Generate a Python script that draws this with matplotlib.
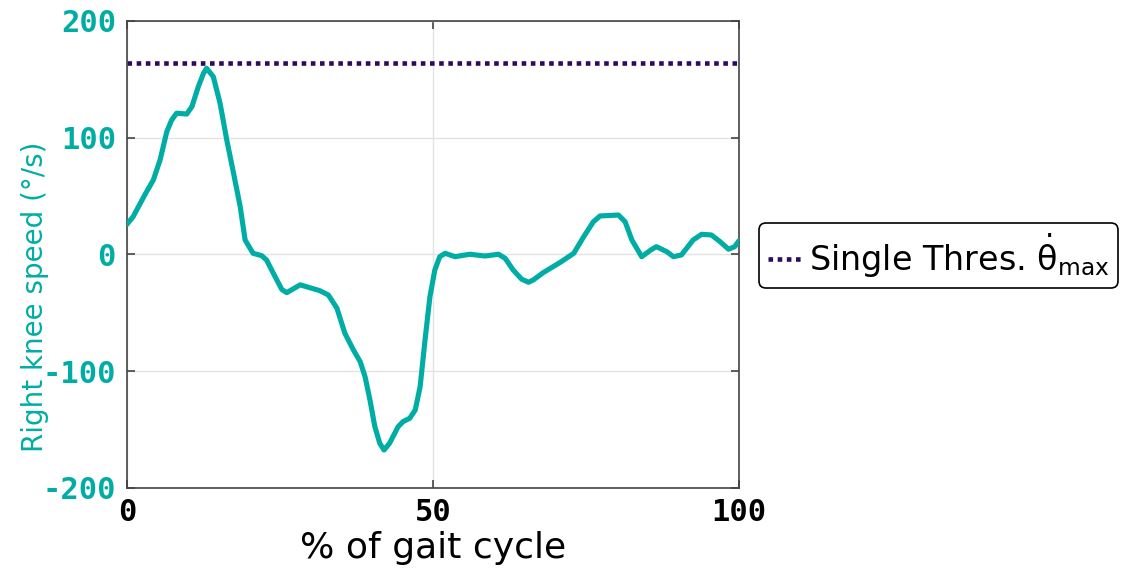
import matplotlib
matplotlib.use("Agg")
import matplotlib.pyplot as plt

plt.rcParams["mathtext.default"] = "regular"
plt.rcParams["axes.unicode_minus"] = False

# right knee angular velocity over one gait cycle
gait_pct = [0.0, 1.0, 2.9, 4.3, 5.4, 6.5, 7.3, 8.1, 9.75, 10.6, 11.65, 12.5, 13.0,
            14.1, 15.2, 16.3, 17.4, 18.5, 19.3, 20.6, 22.0, 22.8, 23.9, 25.3, 26.1,
            28.3, 31.5, 32.9, 34.3, 35.6, 37.0, 38.1, 38.9, 39.7,
            40.5, 41.3, 42.0, 42.9, 44.3, 45.1, 46.2, 47.1, 47.9, 48.7, 49.5, 50.3,
            51.1, 52.0, 53.6, 56.0, 58.5, 60.7, 61.8, 63.1, 64.5, 65.6, 66.4, 68.0,
            70.8, 73.0, 74.6, 76.2, 77.3, 80.3, 81.4, 82.5, 84.1, 85.5, 86.5, 88.2,
            89.3, 90.6, 92.5, 93.9, 95.5, 96.9, 98.3, 99.3, 100.0]
knee_speed = [25.9, 32.4, 51.0, 63.8, 80.9, 105.2, 115.2, 121.0, 120.3, 126.6, 143.7,
              155.2, 159.5, 152.3, 129.7, 98.1, 69.8, 40.9, 12.4, 1.0, -1.0, -4.7,
              -16.0, -30.0, -32.7, -26.0, -31.0, -34.7, -46.0, -67.5, -81.8, -91.8,
              -104.7, -124.6, -147.5, -161.7, -167.5, -161.7, -147.5, -143.2, -140.3,
              -133.2, -113.2, -73.2, -36.1, -13.3, -1.9, 1.0, -1.9, 0.2, -1.3, 0.2,
              -3.3, -13.3, -21.2, -23.8, -21.8, -15.6, -6.7, 1.0, 15.0, 28.0, 33.0,
              33.8, 28.0, 12.4, -1.9, 3.5, 6.7, 2.4, -1.9, -0.4, 12.4, 17.3, 16.7,
              11.0, 4.5, 6.7, 11.8]
threshold = 163.8

teal = "#00ADA5"
purple = "#2d0a5e"

fig = plt.figure(figsize=(11.27, 5.72), dpi=100)
ax = fig.add_axes([0.1127, 0.1469, 0.5430, 0.8164])

ax.plot(gait_pct, knee_speed, color=teal, linewidth=3.7, solid_capstyle="round",
        solid_joinstyle="round", zorder=3)
ax.axhline(threshold, color=purple, linestyle=(0, (1, 1)), linewidth=3.3,
           label=r"Single Thres. $\dot{\theta}_{max}$", zorder=2)

ax.set_xlim(0, 100)
ax.set_ylim(-200, 200)
ax.set_xticks([0, 50, 100])
ax.set_yticks([-200, -100, 0, 100, 200])
ax.grid(True, color="#e3e3e3", linewidth=1.0, zorder=0)

ax.tick_params(direction="in", length=6, width=1.2, color="#444444",
               top=True, right=True, labelsize=22)
ax.tick_params(axis="y", pad=8, labelcolor=teal)
ax.tick_params(axis="x", pad=7)
for lab in ax.get_xticklabels() + ax.get_yticklabels():
    lab.set_family("DejaVu Sans Mono")
    lab.set_weight("bold")
for sp in ax.spines.values():
    sp.set_color("#444444")
    sp.set_linewidth(1.2)

ax.set_xlabel("% of gait cycle", fontsize=26)
ax.xaxis.set_label_coords(0.5, -0.092)
ax.set_ylabel("Right knee speed (°/s)", fontsize=20, color=teal)
ax.yaxis.set_label_coords(-0.128, 0.41)

leg = ax.legend(loc="center left", bbox_to_anchor=(1.033, 0.498), fontsize=24,
                frameon=True, fancybox=True, edgecolor="black", framealpha=1,
                handlelength=1.0, handletextpad=0.25, borderpad=0.25,
                borderaxespad=0)
leg.get_frame().set_linewidth(1.2)

fig.savefig("out.png", dpi=100)
